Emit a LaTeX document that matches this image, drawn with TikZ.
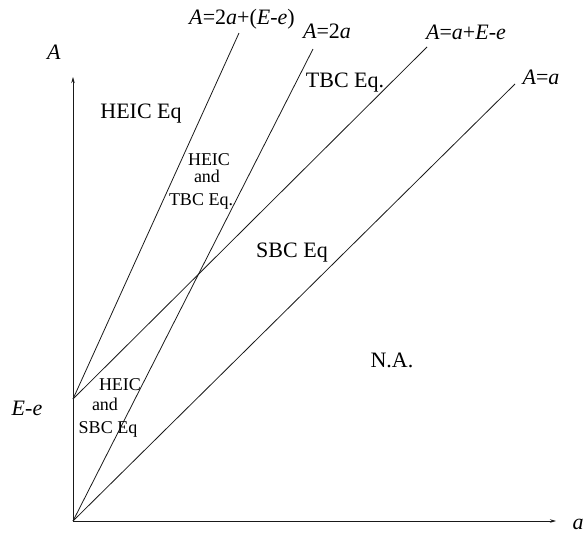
\documentclass[tikz,border=0pt]{standalone}
\usepackage{fontspec}
\setmainfont{Liberation Serif}
\usetikzlibrary{arrows.meta}
\begin{document}
\begin{tikzpicture}[x=1pt,y=-1pt,
  big/.style={font=\fontsize{22}{26}\selectfont, inner sep=0pt, anchor=base},
  small/.style={font=\fontsize{18}{21}\selectfont, inner sep=0pt, anchor=base},
  ln/.style={line width=0.8pt, black!90},
  axisline/.style={line width=0.8pt, black!90, -{Stealth[length=6pt,width=3.5pt]}}]
\useasboundingbox (0,0) rectangle (584,536);
% key points
\coordinate (O) at (73,521);
\coordinate (P) at (73,399);
\coordinate (ytop) at (73,77);
\coordinate (xend) at (556,521);
\coordinate (t1) at (239,33);
\coordinate (t2) at (313,49);
\coordinate (t3) at (427,47);
\coordinate (t4) at (515,84);
% axes
\draw[axisline] (O) -- (ytop);
\draw[axisline] (O) -- (xend);
% lines
\draw[ln] (P) -- (t1);
\draw[ln] (O) -- (t2);
\draw[ln] (P) -- (t3);
\draw[ln] (O) -- (t4);
% axis labels
\node[big] (lA) at (54,59) {\textit{A}};
\node[big] (la) at (578,529) {\textit{a}};
\node[big] (lEe) at (27,415) {\textit{E}-\textit{e}};
% line labels
\node[big] (l1) at (242,24) {\textit{A}=2\textit{a}+(\textit{E}-\textit{e})};
\node[big] (l2) at (327,38) {\textit{A}=2\textit{a}};
\node[big] (l3) at (466,39) {\textit{A}=\textit{a}+\textit{E}-\textit{e}};
\node[big] (l4) at (541,84) {\textit{A}=\textit{a}};
% region labels
\node[big] (heic) at (141,118) {HEIC Eq};
\node[big] (tbc) at (345,87) {TBC Eq.};
\node[big] (sbc) at (292,257) {SBC Eq};
\node[big] (na) at (392,367) {N.A.};
\node[small] (ht1) at (209,165) {HEIC};
\node[small] (ht2) at (207,182) {and};
\node[small] (ht3) at (201,205) {TBC Eq.};
\node[small] (hs1) at (120,390) {HEIC};
\node[small] (hs2) at (105,410) {and};
\node[small] (hs3) at (108,433) {SBC Eq};
\end{tikzpicture}
\end{document}
